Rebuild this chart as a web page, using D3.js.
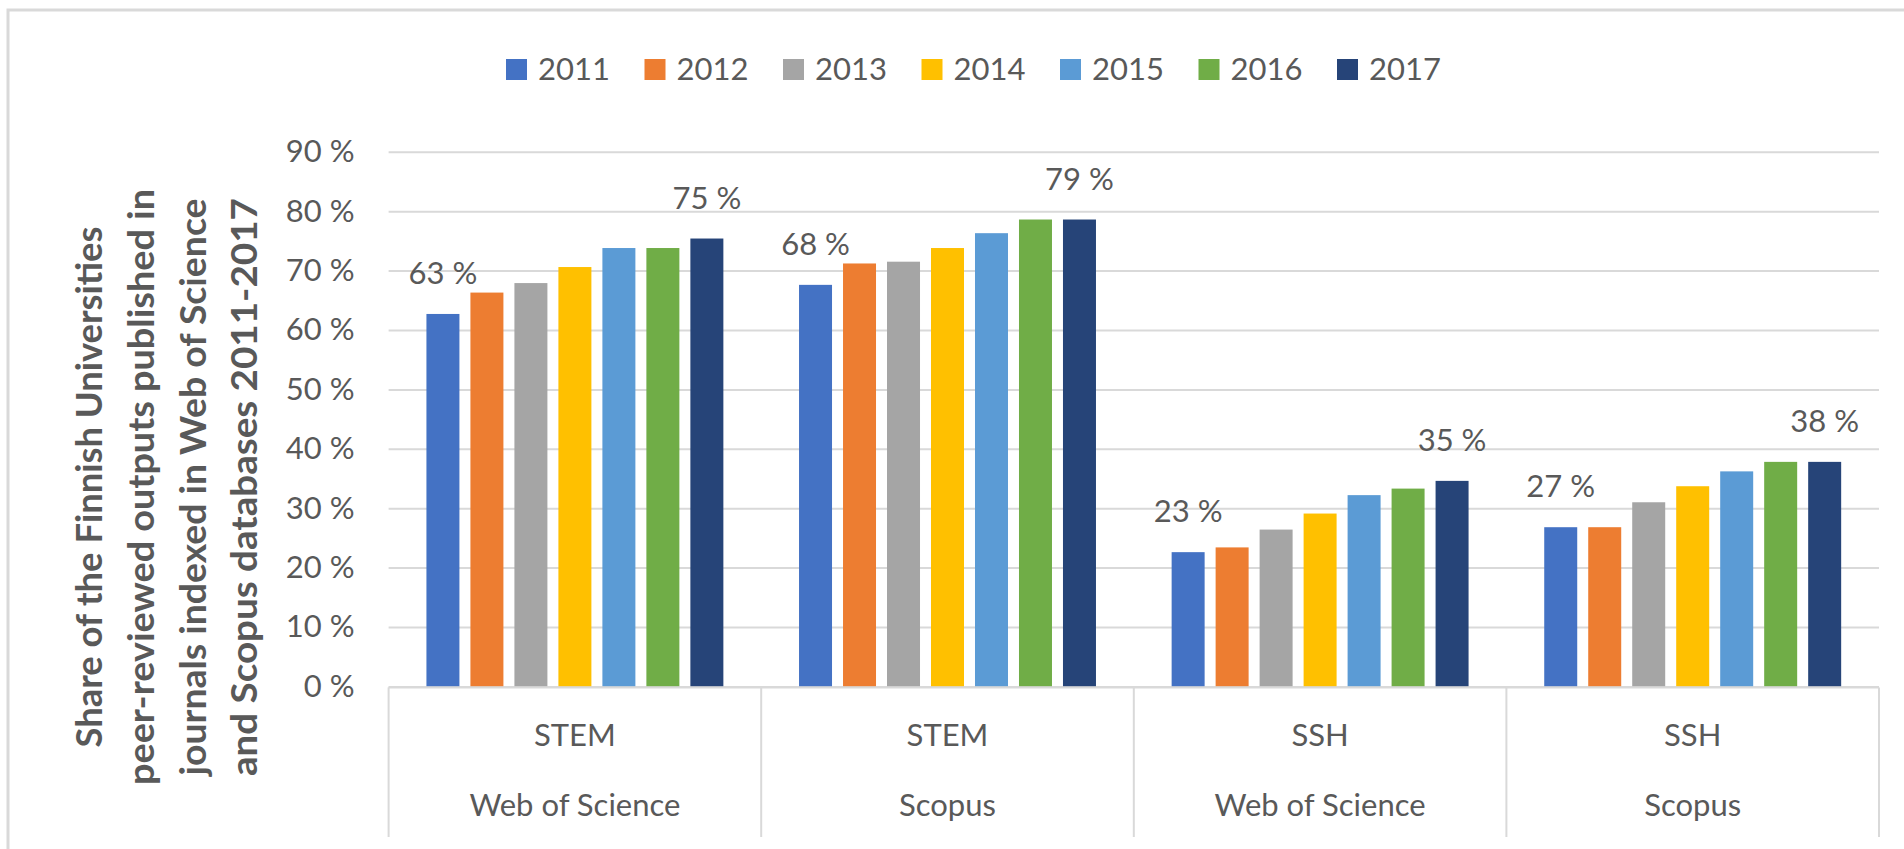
<!DOCTYPE html>
<html>
<head>
<meta charset="utf-8">
<script src="https://cdn.jsdelivr.net/npm/d3@7"></script>
<style>
  body { margin: 0; background: #fff; }
  text { font-family: Lato, "Open Sans", sans-serif; fill: #595959; }
</style>
</head>
<body>
<div id="chart"></div>
<script>
// data
var years = ['2011', '2012', '2013', '2014', '2015', '2016', '2017']
var fields = ['STEM', 'STEM', 'SSH', 'SSH']
var databases = ['Web of Science', 'Scopus', 'Web of Science', 'Scopus']
var stemWos = [62.7, 66.3, 67.9, 70.6, 73.8, 73.8, 75.4]
var stemScopus = [67.6, 71.2, 71.5, 73.8, 76.3, 78.6, 78.6]
var sshWos = [22.6, 23.4, 26.4, 29.1, 32.2, 33.3, 34.6]
var sshScopus = [26.8, 26.8, 31.0, 33.7, 36.2, 37.8, 37.8]
var yTicks = [0, 10, 20, 30, 40, 50, 60, 70, 80, 90]
var titleLines = ['Share of the Finnish Universities',
                  'peer-reviewed outputs published in',
                  'journals indexed in Web of Science',
                  'and Scopus databases 2011-2017']

var colors = ['#4472C4', '#ED7D31', '#A5A5A5', '#FFC000', '#5B9BD5', '#70AD47', '#264478']

var width = 1904, height = 849
var plot = {left: 388.6, right: 1879, top: 151.8, bottom: 686.4}

var groups = [stemWos, stemScopus, sshWos, sshScopus].map(function(vals, i) {
    return {key: i, field: fields[i], db: databases[i], values: vals}
})

var svg = d3.select('#chart').append('svg')
    .attr('width', width)
    .attr('height', height)

// outer frame of the chart area
svg.append('rect')
    .attr('x', 8).attr('y', 10)
    .attr('width', width + 20).attr('height', height + 20)
    .attr('fill', '#fff')
    .attr('stroke', '#d9d9d9')
    .attr('stroke-width', 3)

var x0 = d3.scaleBand()
    .domain(groups.map(function(g) { return g.key }))
    .range([plot.left, plot.right])

var x1 = d3.scaleBand()
    .domain(years)
    .range([0, x0.bandwidth()])
    .paddingInner(0.25)
    .paddingOuter(0.86)

var y = d3.scaleLinear()
    .domain([0, 90])
    .range([plot.bottom, plot.top])

// gridlines
svg.append('g')
    .attr('class', 'grid')
    .attr('transform', 'translate(' + plot.left + ',0)')
    .call(d3.axisLeft(y).tickValues(yTicks).tickSize(-(plot.right - plot.left)).tickFormat(''))
    .call(function(g) { g.select('.domain').remove() })
    .selectAll('line')
        .attr('stroke', '#d9d9d9')
        .attr('stroke-width', 2)

// y tick labels
svg.append('g')
    .attr('transform', 'translate(' + (plot.left - 34) + ',0)')
    .call(d3.axisLeft(y).tickValues(yTicks).tickSize(0).tickPadding(0)
        .tickFormat(function(d) { return d + ' %' }))
    .call(function(g) { g.select('.domain').remove() })
    .selectAll('text')
        .attr('font-size', '31px')
        .attr('font-family', 'Lato')
        .attr('fill', '#595959')

// bars
var gs = svg.selectAll('.group')
    .data(groups)
    .enter().append('g')
    .attr('class', 'group')
    .attr('transform', function(g) { return 'translate(' + x0(g.key) + ',0)' })

gs.selectAll('rect')
    .data(function(g) { return g.values.map(function(v, i) { return {year: years[i], value: v} }) })
    .enter().append('rect')
    .attr('x', function(d) { return x1(d.year) })
    .attr('width', x1.bandwidth())
    .attr('y', function(d) { return y(d.value) })
    .attr('height', function(d) { return y(0) - y(d.value) })
    .attr('fill', function(d, i) { return colors[i] })

// value labels on first and last bar of each group
gs.selectAll('.label')
    .data(function(g) {
        var n = g.values.length
        return [{year: years[0], value: g.values[0]}, {year: years[n - 1], value: g.values[n - 1]}]
    })
    .enter().append('text')
    .attr('class', 'label')
    .attr('x', function(d) { return x1(d.year) + x1.bandwidth() / 2 })
    .attr('y', function(d) { return y(d.value) - 30 })
    .attr('text-anchor', 'middle')
    .attr('font-size', '31px')
    .text(function(d) { return Math.round(d.value) + ' %' })

// category axis box
var axisG = svg.append('g').attr('class', 'cat-axis')
axisG.append('line')
    .attr('x1', plot.left).attr('x2', plot.right)
    .attr('y1', plot.bottom + 1).attr('y2', plot.bottom + 1)
    .attr('stroke', '#d9d9d9').attr('stroke-width', 2)
var bounds = groups.map(function(g) { return x0(g.key) }).concat([plot.right])
axisG.selectAll('.sep')
    .data(bounds)
    .enter().append('line')
    .attr('class', 'sep')
    .attr('x1', function(d) { return d }).attr('x2', function(d) { return d })
    .attr('y1', plot.bottom + 1).attr('y2', 837)
    .attr('stroke', '#d9d9d9').attr('stroke-width', 2)

axisG.selectAll('.field')
    .data(groups)
    .enter().append('text')
    .attr('class', 'field')
    .attr('x', function(g) { return x0(g.key) + x0.bandwidth() / 2 })
    .attr('y', 746)
    .attr('text-anchor', 'middle')
    .attr('font-size', '31px')
    .text(function(g) { return g.field })

axisG.selectAll('.db')
    .data(groups)
    .enter().append('text')
    .attr('class', 'db')
    .attr('x', function(g) { return x0(g.key) + x0.bandwidth() / 2 })
    .attr('y', 816)
    .attr('text-anchor', 'middle')
    .attr('font-size', '31px')
    .text(function(g) { return g.db })

// legend
var legend = svg.append('g').attr('class', 'legend')
var li = legend.selectAll('g')
    .data(years)
    .enter().append('g')
    .attr('transform', function(d, i) { return 'translate(' + (506 + i * 138.5) + ',59)' })
li.append('rect')
    .attr('width', 21).attr('height', 21)
    .attr('fill', function(d, i) { return colors[i] })
li.append('text')
    .attr('x', 32).attr('y', 21)
    .attr('font-size', '31px')
    .text(function(d) { return d })

// y axis title, four rotated lines
var titleX = [102, 154, 206, 257]
var titleLen = [521, 596, 577, 578]
svg.append('g').selectAll('text')
    .data(titleLines)
    .enter().append('text')
    .attr('transform', function(d, i) { return 'translate(' + titleX[i] + ',487) rotate(-90)' })
    .attr('text-anchor', 'middle')
    .attr('font-size', '37px')
    .attr('font-weight', 'bold')
    .attr('textLength', function(d, i) { return titleLen[i] })
    .attr('lengthAdjust', 'spacingAndGlyphs')
    .text(function(d) { return d })
</script>
</body>
</html>
